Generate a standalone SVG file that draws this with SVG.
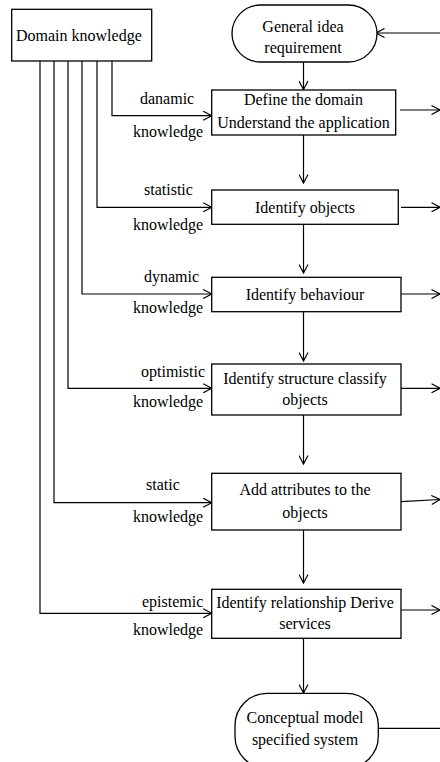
<svg xmlns="http://www.w3.org/2000/svg" width="440" height="762" viewBox="0 0 440 762">
<defs>
<marker id="ah" viewBox="0 0 10 10" refX="9.5" refY="5" markerWidth="10" markerHeight="10" markerUnits="userSpaceOnUse" orient="auto">
<path d="M1,0.5 L9.5,5 L1,9.5" fill="none" stroke="#000" stroke-width="1.2"/>
</marker>
</defs>
<rect width="440" height="762" fill="#fff"/>
<g id="connectors" fill="none" stroke="#000" stroke-width="1.2" marker-end="url(#ah)">
<path d="M112,61 V115.7 H211.7"/>
<path d="M97,61 V207.3 H211.7"/>
<path d="M82,61 V294 H211.7"/>
<path d="M68,61 V388.3 H211.7"/>
<path d="M54,61 V502.7 H211.7"/>
<path d="M40,61 V613.3 H211.7"/>
<path d="M303.5,62 V89.5"/>
<path d="M303.5,135 V183"/>
<path d="M303.5,224.3 V273"/>
<path d="M303.5,311.7 V361"/>
<path d="M303.5,415 V464"/>
<path d="M303.5,530 V583"/>
<path d="M303.5,638.3 V693"/>
<path d="M440,33 H376"/>
<path d="M400,110 H440"/>
<path d="M401,207.3 H440"/>
<path d="M401,294 H440"/>
<path d="M401,388.3 H440"/>
<path d="M401,501.7 L440,499.5"/>
<path d="M401,610 H440"/>
<path d="M378,728.3 H440" marker-end="none"/>
</g>
<g fill="#fff" stroke="#000" stroke-width="1.3">
<rect id="domain-box" x="11.7" y="9.3" width="140" height="51.7"/>
<rect id="general-box" x="232" y="5" width="145" height="57" rx="28.5"/>
<rect id="define-box" x="211.7" y="90" width="184" height="45"/>
<rect id="objects-box" x="211.7" y="190" width="186.6" height="34.3"/>
<rect id="behaviour-box" x="211.7" y="277.3" width="189.3" height="34.4"/>
<rect id="structure-box" x="211.7" y="364" width="189.3" height="51"/>
<rect id="attributes-box" x="211.7" y="473.3" width="189.3" height="56.7"/>
<rect id="relationship-box" x="211.7" y="589.3" width="189.3" height="49"/>
<rect id="conceptual-box" x="235" y="693.3" width="143.3" height="75" rx="32"/>
</g>
<g font-family="Liberation Serif" font-size="16" fill="#000">
<g id="domain"><text x="16" y="41">Domain knowledge</text></g>
<g id="general" text-anchor="middle"><text x="303" y="32">General idea</text><text x="303" y="53">requirement</text></g>
<g id="define" text-anchor="middle"><text x="303.5" y="105">Define the domain</text><text x="303.5" y="128">Understand the application</text></g>
<g id="objects" text-anchor="middle"><text x="305" y="213">Identify objects</text></g>
<g id="behaviour" text-anchor="middle"><text x="305" y="300">Identify behaviour</text></g>
<g id="structure" text-anchor="middle"><text x="305" y="384">Identify structure classify</text><text x="305" y="405">objects</text></g>
<g id="attributes" text-anchor="middle"><text x="305" y="495">Add attributes to the</text><text x="305" y="518">objects</text></g>
<g id="relationship" text-anchor="middle"><text x="305" y="608">Identify relationship Derive</text><text x="305" y="629">services</text></g>
<g id="conceptual" text-anchor="middle"><text x="305" y="723">Conceptual model</text><text x="305" y="745">specified system</text></g>
<g id="labels">
<text x="140" y="104">danamic</text>
<text x="133" y="137">knowledge</text>
<text x="144" y="195">statistic</text>
<text x="133" y="230">knowledge</text>
<text x="144" y="282">dynamic</text>
<text x="133" y="313">knowledge</text>
<text x="141" y="377">optimistic</text>
<text x="133" y="407">knowledge</text>
<text x="146" y="490">static</text>
<text x="133" y="522">knowledge</text>
<text x="142" y="607">epistemic</text>
<text x="133" y="635">knowledge</text>
</g>
</g>
</svg>
